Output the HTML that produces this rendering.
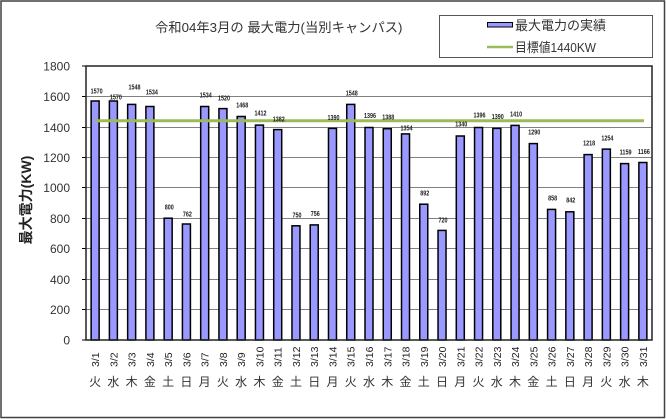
<!DOCTYPE html>
<html><head><meta charset="utf-8">
<style>
html,body{margin:0;padding:0;background:#fff;}
svg{display:block;}
text{font-family:"Liberation Sans","Noto Sans CJK JP",sans-serif;}
</style></head>
<body>
<svg width="666" height="419" viewBox="0 0 666 419" xmlns="http://www.w3.org/2000/svg">
<rect x="0" y="0" width="666" height="419" fill="#fff"/>
<rect x="1" y="1" width="663.5" height="416.5" fill="none" stroke="#404040" stroke-width="1.5"/>

<!-- title -->
<text x="155" y="32" font-size="13.3" fill="#333">令和04年3月の 最大電力(当別キャンパス)</text>

<!-- legend -->
<rect x="439.5" y="15.5" width="213" height="42" fill="#fff" stroke="#555" stroke-width="1"/>
<rect x="487.5" y="22.5" width="25" height="4.5" fill="#9999FF" stroke="#000" stroke-width="1"/>
<text x="515" y="30" font-size="13" fill="#333">最大電力の実績</text>
<line x1="487" y1="47" x2="513" y2="47" stroke="#9BBB59" stroke-width="2.5"/>
<text x="515" y="52" font-size="13" fill="#333" textLength="81" lengthAdjust="spacingAndGlyphs">目標値1440KW</text>

<!-- gridlines -->
<g stroke="#808080" stroke-width="1">
<line x1="86" y1="309.5" x2="652" y2="309.5"/>
<line x1="86" y1="279.5" x2="652" y2="279.5"/>
<line x1="86" y1="248.5" x2="652" y2="248.5"/>
<line x1="86" y1="218.5" x2="652" y2="218.5"/>
<line x1="86" y1="187.5" x2="652" y2="187.5"/>
<line x1="86" y1="157.5" x2="652" y2="157.5"/>
<line x1="86" y1="127.5" x2="652" y2="127.5"/>
<line x1="86" y1="96.5" x2="652" y2="96.5"/>
</g>
<!-- ticks -->
<g stroke="#000" stroke-width="1">
<line x1="82" y1="340" x2="86" y2="340"/>
<line x1="82" y1="309.5" x2="86" y2="309.5"/>
<line x1="82" y1="279.5" x2="86" y2="279.5"/>
<line x1="82" y1="248.5" x2="86" y2="248.5"/>
<line x1="82" y1="218.5" x2="86" y2="218.5"/>
<line x1="82" y1="187.5" x2="86" y2="187.5"/>
<line x1="82" y1="157.5" x2="86" y2="157.5"/>
<line x1="82" y1="127.5" x2="86" y2="127.5"/>
<line x1="82" y1="96.5" x2="86" y2="96.5"/>
<line x1="82" y1="66" x2="86" y2="66"/>
</g>

<!-- y labels -->
<g font-size="12" fill="#333" text-anchor="end">
<text x="70" y="344.5">0</text>
<text x="70" y="314">200</text>
<text x="70" y="284">400</text>
<text x="70" y="253">600</text>
<text x="70" y="223">800</text>
<text x="70" y="192">1000</text>
<text x="70" y="162">1200</text>
<text x="70" y="132">1400</text>
<text x="70" y="101">1600</text>
<text x="70" y="70.5">1800</text>
</g>
<text transform="translate(31,200) rotate(-90)" font-size="14" font-weight="bold" fill="#222" text-anchor="middle">最大電力(KW)</text>

<!-- bars -->
<g fill="#9999FF" stroke="#000" stroke-width="1.5">
<rect x="91.13" y="101.0" width="8" height="239.0"/>
<rect x="109.39" y="101.0" width="8" height="239.0"/>
<rect x="127.65" y="104.4" width="8" height="235.6"/>
<rect x="145.90" y="106.5" width="8" height="233.5"/>
<rect x="164.16" y="218.2" width="8" height="121.8"/>
<rect x="182.42" y="224.0" width="8" height="116.0"/>
<rect x="200.68" y="106.5" width="8" height="233.5"/>
<rect x="218.94" y="108.6" width="8" height="231.4"/>
<rect x="237.19" y="116.5" width="8" height="223.5"/>
<rect x="255.45" y="125.1" width="8" height="214.9"/>
<rect x="273.71" y="129.6" width="8" height="210.4"/>
<rect x="291.97" y="225.8" width="8" height="114.2"/>
<rect x="310.22" y="224.9" width="8" height="115.1"/>
<rect x="328.48" y="128.4" width="8" height="211.6"/>
<rect x="346.74" y="104.4" width="8" height="235.6"/>
<rect x="365.00" y="127.5" width="8" height="212.5"/>
<rect x="383.26" y="128.7" width="8" height="211.3"/>
<rect x="401.51" y="133.9" width="8" height="206.1"/>
<rect x="419.77" y="204.2" width="8" height="135.8"/>
<rect x="438.03" y="230.4" width="8" height="109.6"/>
<rect x="456.29" y="136.0" width="8" height="204.0"/>
<rect x="474.55" y="127.5" width="8" height="212.5"/>
<rect x="492.80" y="128.4" width="8" height="211.6"/>
<rect x="511.06" y="125.4" width="8" height="214.6"/>
<rect x="529.32" y="143.6" width="8" height="196.4"/>
<rect x="547.58" y="209.4" width="8" height="130.6"/>
<rect x="565.84" y="211.8" width="8" height="128.2"/>
<rect x="584.09" y="154.6" width="8" height="185.4"/>
<rect x="602.35" y="149.1" width="8" height="190.9"/>
<rect x="620.61" y="163.6" width="8" height="176.4"/>
<rect x="638.87" y="162.5" width="8" height="177.5"/>
</g>

<!-- target line -->
<line x1="95" y1="120.8" x2="644" y2="120.8" stroke="#9BBB59" stroke-width="3"/>

<!-- plot border -->
<rect x="86" y="66" width="566" height="274" fill="none" stroke="#222" stroke-width="1.5"/>

<!-- value labels -->
<g font-size="7.5" font-weight="bold" fill="#222" text-anchor="middle">
<text x="96.6" y="93.5" textLength="12" lengthAdjust="spacingAndGlyphs">1570</text>
<text x="115.9" y="99.5" textLength="12" lengthAdjust="spacingAndGlyphs">1570</text>
<text x="134.5" y="89.5" textLength="12" lengthAdjust="spacingAndGlyphs">1548</text>
<text x="151.9" y="94.5" textLength="12" lengthAdjust="spacingAndGlyphs">1534</text>
<text x="169.2" y="209.5" textLength="9" lengthAdjust="spacingAndGlyphs">800</text>
<text x="187.4" y="216.5" textLength="9" lengthAdjust="spacingAndGlyphs">762</text>
<text x="205.7" y="97.5" textLength="12" lengthAdjust="spacingAndGlyphs">1534</text>
<text x="224.0" y="100.5" textLength="12" lengthAdjust="spacingAndGlyphs">1520</text>
<text x="242.2" y="107.5" textLength="12" lengthAdjust="spacingAndGlyphs">1468</text>
<text x="260.5" y="115.5" textLength="12" lengthAdjust="spacingAndGlyphs">1412</text>
<text x="278.7" y="121.5" textLength="12" lengthAdjust="spacingAndGlyphs">1382</text>
<text x="297.0" y="217.5" textLength="9" lengthAdjust="spacingAndGlyphs">750</text>
<text x="315.2" y="216" textLength="9" lengthAdjust="spacingAndGlyphs">756</text>
<text x="333.5" y="120" textLength="12" lengthAdjust="spacingAndGlyphs">1390</text>
<text x="351.7" y="95.5" textLength="12" lengthAdjust="spacingAndGlyphs">1548</text>
<text x="370.0" y="118" textLength="12" lengthAdjust="spacingAndGlyphs">1396</text>
<text x="388.3" y="119.5" textLength="12" lengthAdjust="spacingAndGlyphs">1388</text>
<text x="406.5" y="130.5" textLength="12" lengthAdjust="spacingAndGlyphs">1354</text>
<text x="424.8" y="195.5" textLength="9" lengthAdjust="spacingAndGlyphs">892</text>
<text x="443.0" y="222.5" textLength="9" lengthAdjust="spacingAndGlyphs">720</text>
<text x="461.3" y="126.5" textLength="12" lengthAdjust="spacingAndGlyphs">1340</text>
<text x="479.5" y="117.5" textLength="12" lengthAdjust="spacingAndGlyphs">1396</text>
<text x="497.8" y="119" textLength="12" lengthAdjust="spacingAndGlyphs">1390</text>
<text x="516.1" y="116.5" textLength="12" lengthAdjust="spacingAndGlyphs">1410</text>
<text x="534.3" y="134.5" textLength="12" lengthAdjust="spacingAndGlyphs">1290</text>
<text x="552.6" y="200.5" textLength="9" lengthAdjust="spacingAndGlyphs">858</text>
<text x="570.8" y="202.5" textLength="9" lengthAdjust="spacingAndGlyphs">842</text>
<text x="589.1" y="145.5" textLength="12" lengthAdjust="spacingAndGlyphs">1218</text>
<text x="607.4" y="140.5" textLength="12" lengthAdjust="spacingAndGlyphs">1254</text>
<text x="625.6" y="154.5" textLength="12" lengthAdjust="spacingAndGlyphs">1159</text>
<text x="643.9" y="154" textLength="12" lengthAdjust="spacingAndGlyphs">1166</text>
</g>

<!-- date labels -->
<g font-size="10.5" fill="#222">
<text transform="translate(99.13,367) rotate(-90)">3/1</text>
<text transform="translate(117.39,367) rotate(-90)">3/2</text>
<text transform="translate(135.65,367) rotate(-90)">3/3</text>
<text transform="translate(153.90,367) rotate(-90)">3/4</text>
<text transform="translate(172.16,367) rotate(-90)">3/5</text>
<text transform="translate(190.42,367) rotate(-90)">3/6</text>
<text transform="translate(208.68,367) rotate(-90)">3/7</text>
<text transform="translate(226.94,367) rotate(-90)">3/8</text>
<text transform="translate(245.19,367) rotate(-90)">3/9</text>
<text transform="translate(263.45,367) rotate(-90)">3/10</text>
<text transform="translate(281.71,367) rotate(-90)">3/11</text>
<text transform="translate(299.97,367) rotate(-90)">3/12</text>
<text transform="translate(318.22,367) rotate(-90)">3/13</text>
<text transform="translate(336.48,367) rotate(-90)">3/14</text>
<text transform="translate(354.74,367) rotate(-90)">3/15</text>
<text transform="translate(373.00,367) rotate(-90)">3/16</text>
<text transform="translate(391.26,367) rotate(-90)">3/17</text>
<text transform="translate(409.51,367) rotate(-90)">3/18</text>
<text transform="translate(427.77,367) rotate(-90)">3/19</text>
<text transform="translate(446.03,367) rotate(-90)">3/20</text>
<text transform="translate(464.29,367) rotate(-90)">3/21</text>
<text transform="translate(482.55,367) rotate(-90)">3/22</text>
<text transform="translate(500.80,367) rotate(-90)">3/23</text>
<text transform="translate(519.06,367) rotate(-90)">3/24</text>
<text transform="translate(537.32,367) rotate(-90)">3/25</text>
<text transform="translate(555.58,367) rotate(-90)">3/26</text>
<text transform="translate(573.84,367) rotate(-90)">3/27</text>
<text transform="translate(592.09,367) rotate(-90)">3/28</text>
<text transform="translate(610.35,367) rotate(-90)">3/29</text>
<text transform="translate(628.61,367) rotate(-90)">3/30</text>
<text transform="translate(646.87,367) rotate(-90)">3/31</text>
</g>

<!-- weekday labels -->
<g font-size="12" fill="#333" text-anchor="middle">
<text x="95.13" y="386">火</text>
<text x="113.39" y="386">水</text>
<text x="131.65" y="386">木</text>
<text x="149.90" y="386">金</text>
<text x="168.16" y="386">土</text>
<text x="186.42" y="386">日</text>
<text x="204.68" y="386">月</text>
<text x="222.94" y="386">火</text>
<text x="241.19" y="386">水</text>
<text x="259.45" y="386">木</text>
<text x="277.71" y="386">金</text>
<text x="295.97" y="386">土</text>
<text x="314.22" y="386">日</text>
<text x="332.48" y="386">月</text>
<text x="350.74" y="386">火</text>
<text x="369.00" y="386">水</text>
<text x="387.26" y="386">木</text>
<text x="405.51" y="386">金</text>
<text x="423.77" y="386">土</text>
<text x="442.03" y="386">日</text>
<text x="460.29" y="386">月</text>
<text x="478.55" y="386">火</text>
<text x="496.80" y="386">水</text>
<text x="515.06" y="386">木</text>
<text x="533.32" y="386">金</text>
<text x="551.58" y="386">土</text>
<text x="569.84" y="386">日</text>
<text x="588.09" y="386">月</text>
<text x="606.35" y="386">火</text>
<text x="624.61" y="386">水</text>
<text x="642.87" y="386">木</text>
</g>
</svg>
</body></html>
